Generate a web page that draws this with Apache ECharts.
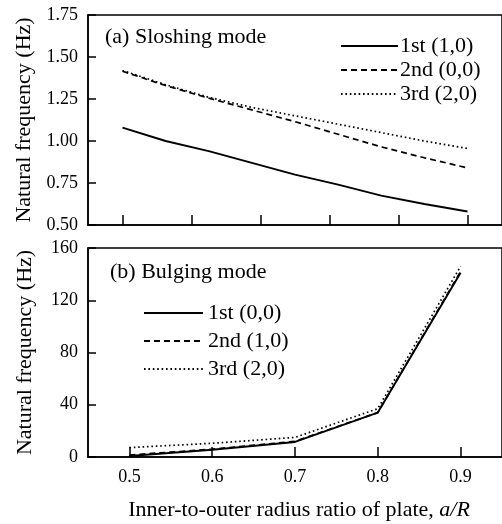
<!DOCTYPE html>
<html>
<head>
<meta charset="utf-8">
<script src="https://cdn.jsdelivr.net/npm/echarts@6/dist/echarts.min.js"></script>
<style>
html,body{margin:0;padding:0;background:#fff;}
#c{width:502px;height:524px;}
</style>
</head>
<body>
<div id="c"></div>
<script>
// ---- data ----
const sloshX = [0.5, 0.55, 0.6, 0.65, 0.7, 0.75, 0.8, 0.85, 0.9];
const slosh1 = [1.08, 1.00, 0.94, 0.87, 0.80, 0.74, 0.675, 0.625, 0.58];
const slosh2 = [1.415, 1.33, 1.255, 1.185, 1.115, 1.04, 0.965, 0.90, 0.84];
const slosh3 = [1.42, 1.335, 1.26, 1.20, 1.15, 1.10, 1.05, 1.00, 0.955];
const sloshNames = ['1st (1,0)', '2nd (0,0)', '3rd (2,0)'];
const sloshTicks = [0.5, 0.58, 0.66, 0.74, 0.82, 0.9];

const bulgeX = [0.5, 0.6, 0.7, 0.8, 0.9];
const bulge1 = [0.8, 5.5, 11.5, 34, 141];
const bulge2 = [1.5, 6, 12, 34, 142];
const bulge3 = [7.2, 10.5, 15, 37, 146];
const bulgeNames = ['1st (0,0)', '2nd (1,0)', '3rd (2,0) '];
const bulgeTicks = [0.5, 0.6, 0.7, 0.8, 0.9];

const titleA = '(a) Sloshing mode';
const titleB = '(b) Bulging mode';
const yName = 'Natural frequency (Hz)';
const xName = 'Inner-to-outer radius ratio of plate, ';
const xNameItalic = 'a/R';

// ---- build ----
const pairs = (xs, ys) => xs.map((x, i) => [x, ys[i]]);
const FONT = 'Liberation Serif';
const styles = [
  { type: 'solid', width: 1.9 },
  { type: [6, 4], width: 1.7 },
  { type: [1.6, 2.8], width: 1.7 }
];

function mkSeries(names, xs, ys, idx) {
  return ys.map((y, i) => ({
    name: names[i],
    type: 'line',
    xAxisIndex: idx, yAxisIndex: idx,
    data: pairs(xs, y),
    symbol: 'none',
    lineStyle: Object.assign({ color: '#000' }, styles[i]),
    itemStyle: { color: '#000' },
    z: 3 - i,
    silent: true
  }));
}

const axisLine = { show: true, lineStyle: { color: '#000', width: 1.5 } };
const labelStyle = { color: '#000', fontFamily: FONT, fontSize: 18 };
const hiddenSymbol = { color: 'rgba(0,0,0,0)', borderColor: 'rgba(0,0,0,0)', borderWidth: 0, opacity: 0 };

const chart = echarts.init(document.getElementById('c'), null, { renderer: 'canvas' });
chart.setOption({
  animation: false,
  backgroundColor: '#fff',
  textStyle: { fontFamily: FONT, color: '#000' },
  title: [
    { text: titleA, left: 105, top: 26, textStyle: { fontFamily: FONT, fontSize: 22, fontWeight: 'normal', color: '#000' }, padding: 0 },
    { text: titleB, left: 110, top: 261, textStyle: { fontFamily: FONT, fontSize: 22, fontWeight: 'normal', color: '#000' }, padding: 0 }
  ],
  legend: [
    {
      data: sloshNames, orient: 'vertical', left: 340, top: 35, padding: 0,
      itemWidth: 57, itemHeight: 14, itemGap: 2,
      itemStyle: hiddenSymbol,
      textStyle: { fontFamily: FONT, fontSize: 22, color: '#000', lineHeight: 20, padding: [0, 0, 0, -3] },
      selectedMode: false
    },
    {
      data: bulgeNames, orient: 'vertical', left: 143, top: 302, padding: 0,
      itemWidth: 59, itemHeight: 14, itemGap: 6,
      itemStyle: hiddenSymbol,
      textStyle: { fontFamily: FONT, fontSize: 22, color: '#000', lineHeight: 20, padding: [0, 0, 0, 0] },
      selectedMode: false
    }
  ],
  grid: [
    { left: 88, top: 15, width: 418, height: 210, show: true, borderColor: '#000', borderWidth: 1.5, backgroundColor: 'transparent' },
    { left: 88, top: 248, width: 418, height: 209, show: true, borderColor: '#000', borderWidth: 1.5, backgroundColor: 'transparent' }
  ],
  xAxis: [
    {
      type: 'value', gridIndex: 0, min: 0.46, max: 0.94,
      axisLine: axisLine,
      axisTick: { show: true, inside: true, length: 10, customValues: sloshTicks, lineStyle: { color: '#000', width: 1.5 } },
      axisLabel: { show: false },
      splitLine: { show: false }
    },
    {
      type: 'value', gridIndex: 1, min: 0.45, max: 0.95,
      axisLine: axisLine,
      axisTick: { show: true, inside: true, length: 10, customValues: bulgeTicks, lineStyle: { color: '#000', width: 1.5 } },
      axisLabel: Object.assign({ customValues: bulgeTicks, margin: 11, formatter: v => v.toFixed(1) }, labelStyle),
      splitLine: { show: false },
      name: '{n|' + xName + '}{i|' + xNameItalic + '}',
      nameLocation: 'middle', nameGap: 42,
      nameTextStyle: {
        padding: [0, 0, 0, 8],
        rich: {
          n: { fontFamily: FONT, fontSize: 22, color: '#000' },
          i: { fontFamily: FONT, fontSize: 22, color: '#000', fontStyle: 'italic' }
        }
      }
    }
  ],
  yAxis: [
    {
      type: 'value', gridIndex: 0, min: 0.5, max: 1.75, interval: 0.25,
      axisLine: axisLine,
      axisTick: { show: true, inside: true, length: 8, lineStyle: { color: '#000', width: 1.5 } },
      axisLabel: Object.assign({ margin: 10, formatter: v => v.toFixed(2) }, labelStyle),
      splitLine: { show: false },
      name: yName, nameLocation: 'middle', nameGap: 52,
      nameTextStyle: { fontFamily: FONT, fontSize: 22, color: '#000' }
    },
    {
      type: 'value', gridIndex: 1, min: 0, max: 160, interval: 40,
      axisLine: axisLine,
      axisTick: { show: true, inside: true, length: 8, lineStyle: { color: '#000', width: 1.5 } },
      axisLabel: Object.assign({ margin: 10 }, labelStyle),
      splitLine: { show: false },
      name: yName, nameLocation: 'middle', nameGap: 52,
      nameTextStyle: { fontFamily: FONT, fontSize: 22, color: '#000' }
    }
  ],
  series: [].concat(
    mkSeries(sloshNames, sloshX, [slosh1, slosh2, slosh3], 0),
    mkSeries(bulgeNames, bulgeX, [bulge1, bulge2, bulge3], 1)
  )
});
</script>
</body>
</html>
